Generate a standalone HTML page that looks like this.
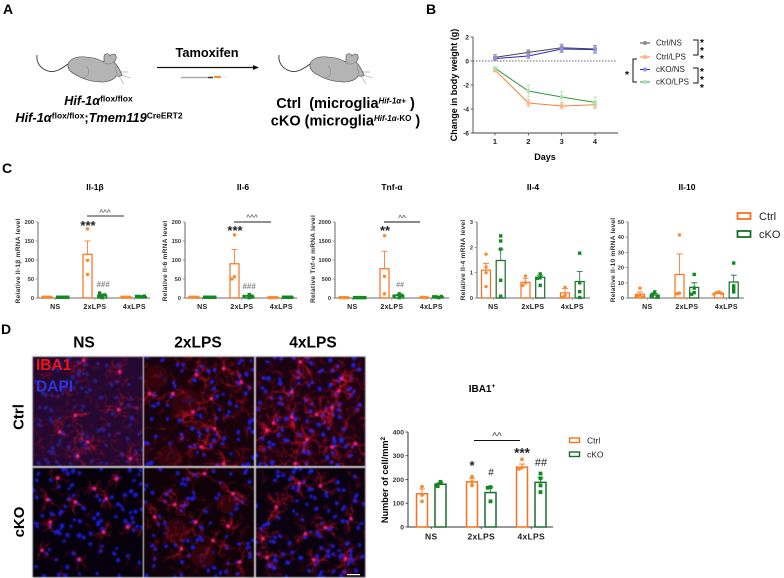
<!DOCTYPE html>
<html>
<head>
<meta charset="utf-8">
<style>
html,body{margin:0;padding:0;background:#fff;}
#stage{position:relative;width:784px;height:578px;overflow:hidden;background:#fff;font-family:"Liberation Sans",sans-serif;}
canvas{position:absolute;filter:blur(0.45px);outline:1px solid #bbb;}
svg{position:absolute;left:0;top:0;}
svg text{font-family:"Liberation Sans",sans-serif;}
.b{font-weight:bold;}
.m{text-anchor:middle;}
</style>
</head>
<body>
<div id="stage">
<canvas id="p1" width="110" height="109" style="left:33px;top:357px"></canvas>
<canvas id="p2" width="110" height="109" style="left:144px;top:357px"></canvas>
<canvas id="p3" width="109" height="109" style="left:256px;top:357px"></canvas>
<canvas id="p4" width="110" height="109" style="left:33px;top:468px"></canvas>
<canvas id="p5" width="110" height="109" style="left:144px;top:468px"></canvas>
<canvas id="p6" width="109" height="109" style="left:256px;top:468px"></canvas>

<svg id="fig" width="784" height="578" viewBox="0 0 784 578" style="filter:blur(0.3px)">
  <defs>
    <g id="mouse-shape">
      <path d="M68,64 C60,70 54,73 48,71 C41,69 36,63 37,55" fill="none" stroke="#333" stroke-width="0.9"/>
      <path d="M68,64 C70,58 78,56 86,57 C94,57 100,60 104,62 L104,56 C105,53 109,53 110,56 C111,54 115,53 116,56 C117,59 115,61 114,62 C117,65 120,70 122,75 C121,77 118,76 116,76 C115,79 110,81 104,82 C94,82 85,80 78,76 C72,73 67,70 68,64Z" fill="#b4b4b4" stroke="#444" stroke-width="0.6"/>
      <path d="M86,66 C90,70 90,75 84,78 M103,62 C108,66 112,63 114,62 M115,66 L117,75 M122,75 L130,78 M120,72 L128,72 M119,76 L124,84" fill="none" stroke="#666" stroke-width="0.4"/>
    </g>
  </defs>

  <g>
    <text x="3" y="14" class="b" font-size="14">A</text>
    <text x="426" y="14" class="b" font-size="14">B</text>
    <text x="2" y="173" class="b" font-size="14">C</text>
    <text x="1" y="334" class="b" font-size="14">D</text>
  </g>

  <g>
    <use href="#mouse-shape"/>
    <use href="#mouse-shape" x="242"/>
    <text x="207" y="57" class="b m" font-size="12.800">Tamoxifen</text>
    <line x1="157" y1="67.500" x2="254" y2="67.500" stroke="#111" stroke-width="1.200"/>
    <path d="M253,65 L259,67.500 L253,70Z" fill="#111"/>
    <g>
      <line x1="181" y1="77.500" x2="208" y2="77.500" stroke="#aaa" stroke-width="1.500"/>
      <line x1="208" y1="77.500" x2="213" y2="77.500" stroke="#334" stroke-width="1.500"/>
      <line x1="214" y1="77" x2="221" y2="77" stroke="#f58220" stroke-width="1.800"/>
      <line x1="221" y1="77" x2="227" y2="77" stroke="#e8e8e8" stroke-width="1"/>
    </g>
    <text x="98.500" y="105" class="b m" font-size="12.600"><tspan font-style="italic">Hif-1α</tspan><tspan font-size="8.500" dy="-3.500">flox/flox</tspan></text>
    <text x="99" y="122" class="b m" font-size="12.800"><tspan font-style="italic">Hif-1α</tspan><tspan font-size="8.500" dy="-3.500">flox/flox</tspan><tspan dy="3.500">;</tspan><tspan font-style="italic">Tmem119</tspan><tspan font-size="8.500" dy="-3.500">CreERT2</tspan></text>
    <text x="345.500" y="108" class="b m" font-size="14.500" xml:space="preserve">Ctrl  (microglia<tspan font-size="8" font-style="italic" dy="-4.500">Hif-1α+</tspan><tspan dy="4.500"> )</tspan></text>
    <text x="345.500" y="125.500" class="b m" font-size="14.500">cKO (microglia<tspan font-size="8" font-style="italic" dy="-4.500">Hif-1α-</tspan><tspan font-size="8" dy="0">KO</tspan><tspan dy="4.500"> )</tspan></text>
  </g>

  <g>
    <text transform="translate(457,85) rotate(-90)" class="b m" font-size="9">Change in body weight (g)</text>
    <text x="545" y="160" class="b m" font-size="9">Days</text>
    <g fill="none" stroke="#111" stroke-width="1">
      <path d="M693,40 H698 V55 H693"/>
      <path d="M693,68 H698 V83 H693"/>
      <path d="M637,59 H633 V82 H637"/>
    </g>
    <g font-size="10" class="b m">
      <text x="702" y="46">*</text><text x="702" y="54">*</text><text x="702" y="62">*</text>
      <text x="702" y="75">*</text><text x="702" y="83">*</text><text x="702" y="91">*</text>
      <text x="627" y="78">*</text>
    </g>
  </g>

  <g>
    <text x="95" y="190" class="b m" font-size="8.500">Il-1β</text>
    <text x="243" y="190" class="b m" font-size="8.500">Il-6</text>
    <text x="392" y="190" class="b m" font-size="8.500">Tnf-α</text>
    <text x="533" y="190" class="b m" font-size="8.500">Il-4</text>
    <text x="687" y="190" class="b m" font-size="8.500">Il-10</text>
    <g class="b m" font-size="6.700" fill="#333" letter-spacing="0.200">
      <text transform="translate(20,261) rotate(-90)">Relative Il-1β mRNA level</text>
      <text transform="translate(167,261) rotate(-90)">Relative Il-6 mRNA level</text>
      <text transform="translate(315,259) rotate(-90)">Relative Tnf-α mRNA level</text>
      <text transform="translate(465,260) rotate(-90)">Relative Il-4 mRNA level</text>
      <text transform="translate(615,260) rotate(-90)">Relative Il-10 mRNA level</text>
    </g>
    <g class="m" fill="#222">
      <line x1="87" y1="216" x2="124" y2="216" stroke="#333" stroke-width="0.900"/>
      <text x="105" y="215.500" font-size="8" fill="#333">^^^</text>
      <text x="88" y="230" font-size="13" class="b">***</text>
      <text x="103" y="287" font-size="8" font-style="italic" fill="#888" class="b">###</text>
      <line x1="234" y1="222" x2="271" y2="222" stroke="#222" stroke-width="0.900"/>
      <text x="252" y="220.500" font-size="8" fill="#333">^^^</text>
      <text x="235" y="235" font-size="13" class="b">***</text>
      <text x="249" y="289" font-size="8" font-style="italic" fill="#888" class="b">###</text>
      <line x1="384" y1="222" x2="420" y2="222" stroke="#111" stroke-width="1"/>
      <text x="402" y="221" font-size="8" fill="#333">^^</text>
      <text x="385" y="235" font-size="13" class="b">**</text>
      <text x="400" y="287" font-size="7" font-style="italic" fill="#888" class="b">##</text>
    </g>
    <g>
      <rect x="737.500" y="213" width="13" height="6" fill="#fff" stroke="#f9701e" stroke-width="1.800"/>
      <text x="759" y="220" font-size="11" fill="#222">Ctrl</text>
      <rect x="737.500" y="231" width="13" height="6" fill="#fff" stroke="#1b6b2b" stroke-width="1.800"/>
      <text x="759" y="238" font-size="11" fill="#222">cKO</text>
    </g>
  </g>

  <g>
    <text x="84" y="347.500" class="b m" font-size="15.500">NS</text>
    <text x="198" y="347.500" class="b m" font-size="15.500">2xLPS</text>
    <text x="313" y="347.500" class="b m" font-size="15.500">4xLPS</text>
    <text transform="translate(23.500,417) rotate(-90)" class="b m" font-size="15">Ctrl</text>
    <text transform="translate(24,522) rotate(-90)" class="b m" font-size="15">cKO</text>
    <text x="36" y="370" class="b" font-size="15.500" fill="#e81818">IBA1</text>
    <text x="36" y="391.500" class="b" font-size="15.500" fill="#2a34e0">DAPI</text>
    <rect x="347" y="574" width="13" height="1.200" fill="#fff"/>
    <text x="482" y="392" class="b m" font-size="10">IBA1<tspan font-size="6.500" dy="-4">+</tspan></text>
    <text transform="translate(388,480) rotate(-90)" class="b m" font-size="9.200">Number of cell/mm<tspan font-size="6.500" dy="-3">2</tspan></text>
    <g class="m" fill="#222">
      <line x1="474" y1="440.500" x2="520" y2="440.500" stroke="#111" stroke-width="1"/>
      <text x="497" y="439.500" font-size="10" fill="#333">^^</text>
      <text x="472" y="470" font-size="13" class="b">*</text>
      <text x="491" y="475.500" font-size="10">#</text>
      <text x="522" y="457.500" font-size="13.500" class="b">***</text>
      <text x="541" y="466" font-size="11">##</text>
    </g>
    <g>
      <rect x="569.500" y="438" width="10" height="4.500" fill="#fff" stroke="#f9701e" stroke-width="1.400"/>
      <text x="587" y="443.500" font-size="8.500" fill="#222">Ctrl</text>
      <rect x="569.500" y="452" width="10" height="4.500" fill="#fff" stroke="#1b6b2b" stroke-width="1.400"/>
      <text x="587" y="457.500" font-size="8.500" fill="#222">cKO</text>
    </g>
  </g>

  <g id="charts"></g>
</svg>
</div>

<script>
/* ---------- Panel B data ---------- */
var weightDays = [1, 2, 3, 4];
var weightTicks = [2, 0, -2, -4, -6];
var weightSeriesNames = ['Ctrl/NS', 'Ctrl/LPS', 'cKO/NS', 'cKO/LPS'];
var ctrlNsWeight = [0.3, 0.72, 1.1, 1.0];
var ctrlNsError = [0.25, 0.2, 0.3, 0.3];
var ctrlLpsWeight = [-0.75, -3.5, -3.75, -3.65];
var ctrlLpsError = [0.15, 0.3, 0.25, 0.3];
var ckoNsWeight = [0.2, 0.42, 1.0, 0.95];
var ckoNsError = [0.15, 0.2, 0.3, 0.3];
var ckoLpsWeight = [-0.6, -2.5, -3.0, -3.45];
var ckoLpsError = [0.1, 0.5, 0.45, 0.45];

/* ---------- Panel C / D bar data: [NS, 2xLPS, 4xLPS] ---------- */
var groupLabels = ['NS', '2xLPS', '4xLPS'];

var il1bTicks = [0, 50, 100, 150, 200];
var il1bCtrlMeans = [2, 115, 2];
var il1bCtrlTops = [2, 150, 2];
var il1bCtrlPoints = [[2, 2, 2, 2], [182, 99, 62], [2, 2, 2, 2]];
var il1bCkoMeans = [2, 7, 4];
var il1bCkoTops = [2, 10, 5];
var il1bCkoPoints = [[2, 2, 2, 2, 2], [1, 5, 8, 13], [3, 4, 5, 4]];

var il6Ticks = [0, 50, 100, 150, 200];
var il6CtrlMeans = [2, 90, 2];
var il6CtrlTops = [2, 128, 2];
var il6CtrlPoints = [[2, 2, 2, 2], [166, 56, 50], [1, 1, 1, 1]];
var il6CkoMeans = [2, 5, 2];
var il6CkoTops = [2, 7, 2];
var il6CkoPoints = [[2, 2, 2, 2, 2], [1, 9, 5, 4], [2, 2, 2, 2]];

var tnfTicks = [0, 500, 1000, 1500, 2000];
var tnfCtrlMeans = [10, 770, 15];
var tnfCtrlTops = [10, 1230, 15];
var tnfCtrlPoints = [[10, 10, 10, 10], [1640, 570, 110], [15, 20, 10]];
var tnfCkoMeans = [10, 70, 30];
var tnfCkoTops = [10, 90, 35];
var tnfCkoPoints = [[10, 10, 10, 10, 10], [10, 110, 70, 50], [10, 30, 40, 30]];

var il4Ticks = [0, 1, 2, 3];
var il4CtrlMeans = [1.1, 0.62, 0.2];
var il4CtrlTops = [1.37, 0.78, 0.38];
var il4CtrlPoints = [[1.73, 1.22, 1.0, 0.45], [0.87, 0.6, 0.5], [0.42, 0.1, 0.03]];
var il4CkoMeans = [1.48, 0.82, 0.65];
var il4CkoTops = [1.93, 0.9, 1.05];
var il4CkoPoints = [[2.45, 2.25, 1.93, 0.7, 0.07], [0.95, 0.8, 0.78, 0.5], [1.77, 0.6, 0.25, 0.02]];

var il10Ticks = [0, 10, 20, 30, 40, 50];
var il10CtrlMeans = [2.5, 15.5, 3];
var il10CtrlTops = [4, 29, 4];
var il10CtrlPoints = [[6.5, 2, 1, 0.5], [41.5, 3.2, 2.8], [4, 3.5, 3, 2.5]];
var il10CkoMeans = [2, 7, 10.5];
var il10CkoTops = [3, 10, 15];
var il10CkoPoints = [[4, 2.5, 1.5, 1, 0.5], [15.5, 6.5, 3.5, 2.5], [23, 8, 6, 4]];

var ibaTicks = [0, 100, 200, 300, 400];
var ibaCtrlMeans = [140, 190, 252];
var ibaCtrlTops = [160, 205, 265];
var ibaCtrlPoints = [[170, 135, 108], [212, 190, 175], [285, 250, 245]];
var ibaCkoMeans = [180, 145, 188];
var ibaCkoTops = [187, 168, 207];
var ibaCkoPoints = [[190, 178, 172], [168, 165, 108], [225, 205, 175, 147]];

var NS = 'http://www.w3.org/2000/svg';
var root = document.getElementById('charts');
var ORANGE = '#f9701e', ORANGE_DOT = '#fb8a2e', GREEN = '#1b6b2b', GREEN_DOT = '#0f8a1f';

function mk(parent, tag, attrs, text) {
  var el = document.createElementNS(NS, tag);
  for (var k in attrs) el.setAttribute(k, attrs[k]);
  if (text !== undefined) el.textContent = text;
  parent.appendChild(el);
  return el;
}
function linear(d0, d1, r0, r1) {
  return function (v) { return r0 + (v - d0) * (r1 - r0) / (d1 - d0); };
}

function drawSeriesGroup(g, kind, cx, w, mean, top, pts, y, color, dotColor, dot, sw) {
  var bar = mk(g, 'rect', { x: cx - w / 2, y: Math.min(y(mean), y(0)), width: w, height: Math.abs(y(0) - y(mean)), fill: 'none', stroke: color, 'stroke-width': sw });
  
  
  var err = mk(g, 'path', { d: 'M' + cx + ',' + y(mean) + 'V' + y(top) + 'M' + (cx - 3) + ',' + y(top) + 'H' + (cx + 3), fill: 'none', stroke: color, 'stroke-width': 0.8 });
  
  
  var used = [];
  pts.forEach(function (v) {
    var near = used.filter(function (u) { return Math.abs(y(u) - y(v)) < dot * 1.6; }).length;
    used.push(v);
    var off = near === 0 ? 0 : (near % 2 ? -1 : 1) * Math.ceil(near / 2) * dot * 1.5;
    var px = cx + off, py = y(v), node;
    if (kind.indexOf('ctrl') === 0) {
      node = mk(g, 'circle', { cx: px, cy: py, r: dot, fill: dotColor });
    } else {
      node = mk(g, 'rect', { x: px - dot, y: py - dot, width: dot * 2, height: dot * 2, fill: dotColor });
    }
    
    
  });
}

function barChart(o) {
  var g = mk(root, 'g', {});
  
  
  var max = o.ticks[o.ticks.length - 1];
  var y = linear(0, max, o.y0, o.yTop);
  var axis = mk(g, 'path', { d: 'M' + o.axisX + ',' + o.yTop + 'V' + o.y0 + 'H' + o.endX, fill: 'none', stroke: o.axisColor, 'stroke-width': o.axisW });
  
  
  o.ticks.forEach(function (t) {
    var tick = mk(g, 'line', { x1: o.axisX - 2.5, x2: o.axisX, y1: y(t), y2: y(t), stroke: o.axisColor, 'stroke-width': 0.8 });
    
    
    var lab = mk(g, 'text', { x: o.axisX - 4, y: y(t) + o.tickFont * 0.36, 'text-anchor': 'end', 'font-size': o.tickFont, 'font-weight': 'bold', fill: '#333' }, String(t));
    
    
  });
  groupLabels.forEach(function (label, i) {
    var c1 = o.first + i * o.step, c2 = c1 + o.pair, mid = (c1 + c2) / 2;
    var xt = mk(g, 'line', { x1: mid, x2: mid, y1: o.y0, y2: o.y0 + 2, stroke: o.axisColor, 'stroke-width': 0.8 });
    
    
    var xl = mk(g, 'text', { x: mid, y: o.y0 + o.xLabDy, 'text-anchor': 'middle', 'font-size': o.xFont, 'font-weight': 'bold', 'letter-spacing': 0.3, fill: '#222' }, label);
    
    
    drawSeriesGroup(g, 'ctrl-' + label, c1, o.barW, o.ctrlMeans[i], o.ctrlTops[i], o.ctrlPoints[i], y, ORANGE, ORANGE_DOT, o.dot, o.barSw);
    drawSeriesGroup(g, 'cko-' + label, c2, o.barW, o.ckoMeans[i], o.ckoTops[i], o.ckoPoints[i], y, GREEN, GREEN_DOT, o.dot, o.barSw);
  });
}

var cCommon = { y0: 298, yTop: 222, axisColor: '#8a8a8a', axisW: 1.3, tickFont: 5.6, xFont: 7, xLabDy: 11, barW: 9, dot: 1.7, barSw: 1.2, pair: 14.7, step: 39.5 };
function withCommon(o) { for (var k in cCommon) if (o[k] === undefined) o[k] = cCommon[k]; return o; }

barChart(withCommon({ name: 'il-1b', ticks: il1bTicks, axisX: 38, endX: 150, first: 48, ctrlMeans: il1bCtrlMeans, ctrlTops: il1bCtrlTops, ctrlPoints: il1bCtrlPoints, ckoMeans: il1bCkoMeans, ckoTops: il1bCkoTops, ckoPoints: il1bCkoPoints }));
barChart(withCommon({ name: 'il-6', ticks: il6Ticks, axisX: 185, endX: 297, first: 195, ctrlMeans: il6CtrlMeans, ctrlTops: il6CtrlTops, ctrlPoints: il6CtrlPoints, ckoMeans: il6CkoMeans, ckoTops: il6CkoTops, ckoPoints: il6CkoPoints }));
barChart(withCommon({ name: 'tnf-a', ticks: tnfTicks, axisX: 335, endX: 449, first: 345, ctrlMeans: tnfCtrlMeans, ctrlTops: tnfCtrlTops, ctrlPoints: tnfCtrlPoints, ckoMeans: tnfCkoMeans, ckoTops: tnfCkoTops, ckoPoints: tnfCkoPoints }));
barChart(withCommon({ name: 'il-4', ticks: il4Ticks, axisX: 477, endX: 590, first: 486, ctrlMeans: il4CtrlMeans, ctrlTops: il4CtrlTops, ctrlPoints: il4CtrlPoints, ckoMeans: il4CkoMeans, ckoTops: il4CkoTops, ckoPoints: il4CkoPoints }));
barChart(withCommon({ name: 'il-10', ticks: il10Ticks, axisX: 628, endX: 744, first: 640, ctrlMeans: il10CtrlMeans, ctrlTops: il10CtrlTops, ctrlPoints: il10CtrlPoints, ckoMeans: il10CkoMeans, ckoTops: il10CkoTops, ckoPoints: il10CkoPoints }));
barChart({ name: 'iba1', ticks: ibaTicks, axisX: 408, endX: 553, first: 422, y0: 527, yTop: 432, axisColor: '#333', axisW: 1, tickFont: 6.8, xFont: 8.5, xLabDy: 12.5, barW: 11, dot: 1.9, barSw: 1.5, pair: 18.5, step: 50, ctrlMeans: ibaCtrlMeans, ctrlTops: ibaCtrlTops, ctrlPoints: ibaCtrlPoints, ckoMeans: ibaCkoMeans, ckoTops: ibaCkoTops, ckoPoints: ibaCkoPoints });

/* ---------- Panel B line chart ---------- */
(function () {
  var g = mk(root, 'g', {});
  
  
  var x = linear(1, 4, 495, 595);
  var y = linear(2, -6, 37, 133);
  var axis = mk(g, 'path', { d: 'M473,' + y(2) + 'V' + y(-6) + 'H618', fill: 'none', stroke: '#444', 'stroke-width': 0.9 });
  
  
  var zero = mk(g, 'line', { x1: 473, x2: 616, y1: y(0), y2: y(0), stroke: '#333', 'stroke-width': 0.7, 'stroke-dasharray': '1.5 1.5' });
  
  
  weightTicks.forEach(function (t) {
    var tick = mk(g, 'line', { x1: 470.5, x2: 473, y1: y(t), y2: y(t), stroke: '#444', 'stroke-width': 0.8 });
    
    
    var lab = mk(g, 'text', { x: 469, y: y(t) + 2.4, 'text-anchor': 'end', 'font-size': 6.5, 'font-weight': 'bold', fill: '#222' }, String(t));
    
    
  });
  weightDays.forEach(function (d) {
    var tick = mk(g, 'line', { x1: x(d), x2: x(d), y1: y(-6), y2: y(-6) + 2.5, stroke: '#444', 'stroke-width': 0.8 });
    
    
    var lab = mk(g, 'text', { x: x(d), y: y(-6) + 11, 'text-anchor': 'middle', 'font-size': 7.5, 'font-weight': 'bold', fill: '#222' }, String(d));
    
    
  });
  var values = [ctrlNsWeight, ctrlLpsWeight, ckoNsWeight, ckoLpsWeight];
  var errors = [ctrlNsError, ctrlLpsError, ckoNsError, ckoLpsError];
  var lineColors = ['#444', '#f5853a', '#2c2cc0', '#2e9a3a'];
  var markColors = ['#8a8a8a', '#ffb380', '#8f8fe8', '#ade3ad'];
  var legendYs = [43, 57, 69.5, 82];
  values.forEach(function (vals, s) {
    var sg = mk(g, 'g', {});
    
    
    var d = vals.map(function (v, i) { return (i ? 'L' : 'M') + x(weightDays[i]) + ',' + y(v); }).join('');
    var line = mk(sg, 'path', { d: d, fill: 'none', stroke: lineColors[s], 'stroke-width': 1 });
    
    
    vals.forEach(function (v, i) {
      var px = x(weightDays[i]), hi = y(v + errors[s][i]), lo = y(v - errors[s][i]);
      var e = mk(sg, 'path', { d: 'M' + px + ',' + hi + 'V' + lo + 'M' + (px - 2) + ',' + hi + 'H' + (px + 2) + 'M' + (px - 2) + ',' + lo + 'H' + (px + 2), stroke: markColors[s], 'stroke-width': 0.8, fill: 'none' });
      
      
      var m = mk(sg, 'rect', { x: px - 1.8, y: y(v) - 1.8, width: 3.6, height: 3.6, fill: markColors[s] });
      
      
    });
    var ll = mk(sg, 'line', { x1: 640, x2: 650, y1: legendYs[s], y2: legendYs[s], stroke: lineColors[s], 'stroke-width': 1 });
    
    
    var lm = mk(sg, 'rect', { x: 643.2, y: legendYs[s] - 1.8, width: 3.6, height: 3.6, fill: markColors[s] });
    
    
    var lt = mk(sg, 'text', { x: 656, y: legendYs[s] + 2.7, 'font-size': 8, fill: '#222' }, weightSeriesNames[s]);
    
    
  });
})();

/* ---------- Micrographs (decorative photo texture) ---------- */
function prng(seed) {
  return function () {
    seed |= 0; seed = seed + 0x6D2B79F5 | 0;
    var t = Math.imul(seed ^ seed >>> 15, 1 | seed);
    t = t + Math.imul(t ^ t >>> 7, 61 | t) ^ t;
    return ((t ^ t >>> 14) >>> 0) / 4294967296;
  };
}
function branch(ctx, r, x, y, a, len, depth, width) {
  ctx.beginPath(); ctx.moveTo(x, y);
  var steps = Math.max(2, Math.round(len / 2));
  for (var i = 0; i < steps; i++) {
    a += (r() - 0.5) * 1.5;
    x += Math.cos(a) * 2; y += Math.sin(a) * 2;
    ctx.lineTo(x, y);
    if (depth > 0 && r() < 0.32) {
      ctx.lineWidth = width; ctx.stroke();
      branch(ctx, r, x, y, a + (r() < 0.5 ? -1 : 1) * (0.5 + r() * 0.8), len * 0.45, depth - 1, width * 0.85);
      ctx.beginPath(); ctx.moveTo(x, y);
    }
  }
  ctx.lineWidth = width; ctx.stroke();
}
var panels = [
  { id: 'p1', ox: 98, oy: 110, bg: '#250830', nuclei: 95, nc: 'rgba(45,45,190,0.6)', alpha: 0.62, reach: 15, extra: 120, dark: [], somas: [[358,155],[355,268],[178,335],[262,365],[232,407],[390,415],[250,120],[225,285]] },
  { id: 'p2', ox: 433, oy: 110, bg: '#18020c', nuclei: 85, nc: 'rgba(32,32,235,0.95)', alpha: 0.8, reach: 16, extra: 120, dark: [[560,250,15],[510,410,12],[470,170,12]], somas: [[520,220],[590,163],[672,145],[645,325],[605,380],[580,275],[635,235],[672,430],[450,220],[725,185]] },
  { id: 'p3', ox: 767, oy: 110, bg: '#1a0212', nuclei: 100, nc: 'rgba(34,34,225,0.95)', alpha: 0.95, reach: 17, extra: 210, dark: [], somas: [[875,215],[1015,212],[995,262],[875,290],[820,308],[948,283],[920,358],[995,380],[900,125],[1025,175],[885,430],[1065,370],[800,330]] },
  { id: 'p4', ox: 98, oy: 443, bg: '#07010d', nuclei: 100, nc: 'rgba(30,30,215,0.9)', alpha: 0.7, reach: 11, extra: 22, dark: [], somas: [[172,473],[283,505],[225,545],[142,538],[318,535],[382,620],[310,635],[125,690],[237,717],[348,476],[150,605]] },
  { id: 'p5', ox: 433, oy: 443, bg: '#100209', nuclei: 90, nc: 'rgba(30,30,215,0.9)', alpha: 0.75, reach: 16, extra: 70, dark: [[530,630,12],[610,710,12],[680,550,10]], somas: [[525,553],[465,590],[588,605],[685,618],[545,685],[720,725],[640,660],[615,460],[700,520]] },
  { id: 'p6', ox: 767, oy: 443, bg: '#0b0210', nuclei: 105, nc: 'rgba(32,32,220,0.9)', alpha: 0.75, reach: 14, extra: 95, dark: [], somas: [[897,488],[828,560],[975,622],[1052,595],[940,718],[800,712],[1035,715],[788,655],[960,497],[915,640]] }
];
panels.forEach(function (p, idx) {
  var c = document.getElementById(p.id), ctx = c.getContext('2d'), r = prng(97 + idx * 131);
  var W = c.width, H = c.height, i;
  ctx.fillStyle = p.bg; ctx.fillRect(0, 0, W, H);
  ctx.fillStyle = p.nc;
  for (i = 0; i < p.nuclei; i++) {
    ctx.beginPath();
    ctx.ellipse(r() * W, r() * H, 1.6 + r() * 1.1, 1.4 + r() * 1, r() * 3, 0, 6.3);
    ctx.fill();
  }
  p.dark.forEach(function (d) {
    ctx.fillStyle = 'rgba(60,6,14,0.75)';
    ctx.beginPath();
    ctx.arc((d[0] - p.ox) / 3, (d[1] - p.oy) / 3, d[2], 0, 6.3);
    ctx.fill();
  });
  ctx.strokeStyle = 'rgba(225,20,40,' + p.alpha + ')';
  ctx.lineCap = 'round';
  for (i = 0; i < p.extra; i++) {
    branch(ctx, r, r() * W, r() * H, r() * 6.3, 4 + r() * 6, 1, 0.42);
  }
  p.somas.forEach(function (s) {
    var sx = (s[0] - p.ox) / 3, sy = (s[1] - p.oy) / 3;
    var n = 4 + Math.floor(r() * 3);
    for (var k = 0; k < n; k++) {
      ctx.strokeStyle = 'rgba(240,25,50,' + Math.min(1, p.alpha + 0.1) + ')';
      branch(ctx, r, sx, sy, k / n * 6.28 + r(), p.reach * (0.6 + r() * 0.6), 1, 0.55);
    }
    var grad = ctx.createRadialGradient(sx, sy, 0, sx, sy, 2.6);
    grad.addColorStop(0, 'rgba(255,60,170,1)');
    grad.addColorStop(0.55, 'rgba(250,30,130,0.85)');
    grad.addColorStop(1, 'rgba(240,20,80,0)');
    ctx.fillStyle = grad;
    ctx.beginPath(); ctx.arc(sx, sy, 2.6, 0, 6.3); ctx.fill();
  });
});
</script>
</body>
</html>
